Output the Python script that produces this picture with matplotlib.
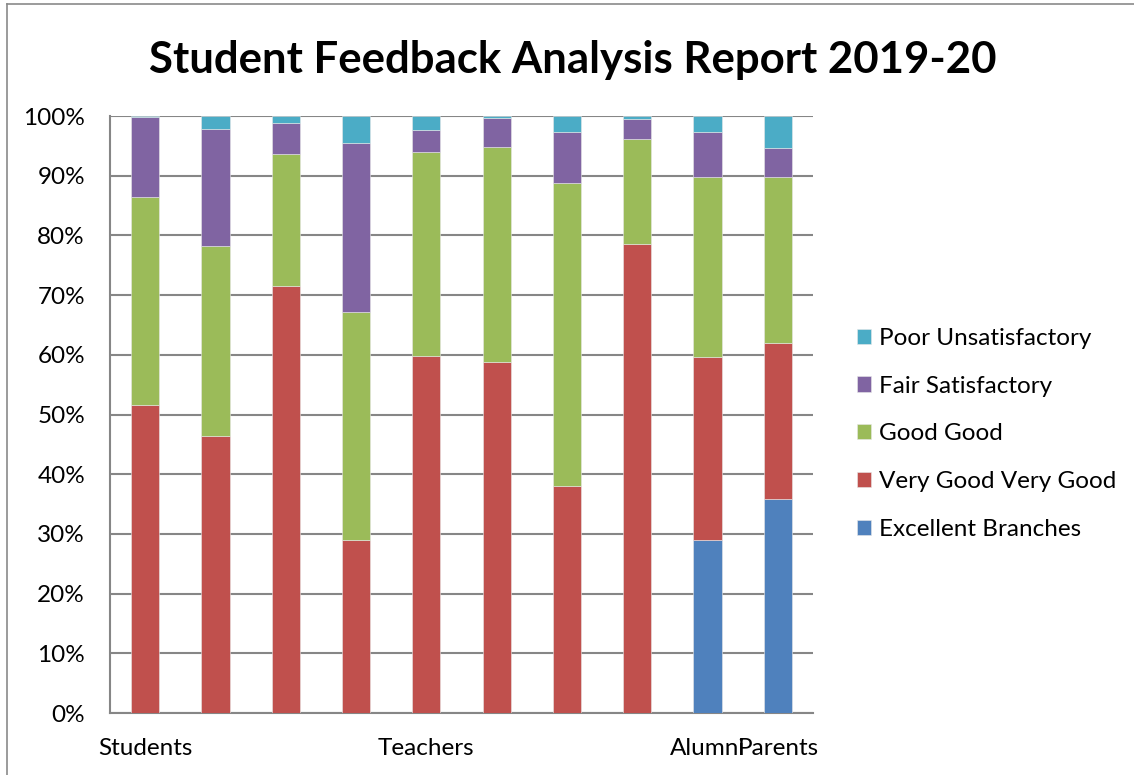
import matplotlib
matplotlib.use("Agg")
import matplotlib.pyplot as plt
from matplotlib.lines import Line2D
import numpy as np

categories = ['Students', '', '', '', 'Teachers', '', '', '', 'Alumni', 'Parents']
series_names = ['Excellent Branches', 'Very Good Very Good', 'Good Good',
                'Fair Satisfactory', 'Poor Unsatisfactory']
excellent = [0, 0, 0, 0, 0, 0, 0, 0, 28.9, 35.8]
very_good = [51.6, 46.4, 71.6, 28.9, 59.8, 58.8, 38.1, 78.6, 30.7, 26.2]
good = [34.8, 31.9, 22.1, 38.3, 34.2, 36.0, 50.7, 17.5, 30.1, 27.7]
fair = [13.4, 19.5, 5.2, 28.3, 3.7, 4.9, 8.6, 3.4, 7.7, 5.0]
poor = [0.2, 2.2, 1.1, 4.5, 2.3, 0.3, 2.6, 0.5, 2.6, 5.3]
colors = ['#4F81BD', '#C0504D', '#9BBB59', '#8064A2', '#4BACC6']

plt.rcParams['font.family'] = ['Lato', 'DejaVu Sans']

fig = plt.figure(figsize=(11.34, 7.75), dpi=100)
W, H = 1134, 775
ax = fig.add_axes([110 / W, (H - 713) / H, (813 - 110) / W, (713 - 116) / H])

x = np.arange(len(categories))
data = [excellent, very_good, good, fair, poor]
bottom = np.zeros(len(categories))
handles = []
for vals, c, name in zip(data, colors, series_names):
    v = np.array(vals, dtype=float)
    b = ax.bar(x, v, 0.4, bottom=bottom, color=c, label=name,
               edgecolor='#e8e8e8', linewidth=0.4, zorder=3)
    bottom += v
    handles.append(b)

fs = 17.5
ax.set_xlim(-0.5, len(categories) - 0.5)
ax.set_ylim(0, 100)
ax.set_yticks(np.arange(0, 101, 10))
ax.set_yticklabels([f'{t}%' for t in range(0, 101, 10)], fontsize=fs)
ax.set_xticks(x)
ax.set_xticklabels(categories, fontsize=fs)
ax.tick_params(axis='both', length=0)
ax.tick_params(axis='y', pad=18)
ax.tick_params(axis='x', pad=18)
ax.yaxis.grid(True, color='#868686', linewidth=1.5, zorder=0)
for s in ['top', 'right']:
    ax.spines[s].set_visible(False)
for s in ['left', 'bottom']:
    ax.spines[s].set_color('#868686')
    ax.spines[s].set_linewidth(1.5)

leg = fig.legend(handles[::-1], series_names[::-1], loc='upper left',
                 bbox_to_anchor=(835 / W, 1 - 306 / H), frameon=False,
                 fontsize=fs, handlelength=0.6, handleheight=0.6,
                 handletextpad=0.3, labelspacing=1.1)

fig.text(0.5055, 1 - 60 / H, 'Student Feedback Analysis Report 2019-20',
         ha='center', va='center', fontsize=31.5, fontweight='bold')

# chart-area border
fig.add_artist(Line2D([7 / W, 1.0], [1 - 4 / H, 1 - 4 / H], color='#8a8a8a', linewidth=1.2))
fig.add_artist(Line2D([7 / W, 7 / W], [0, 1 - 4 / H], color='#8a8a8a', linewidth=1.2))

fig.savefig('out.png', dpi=100)
